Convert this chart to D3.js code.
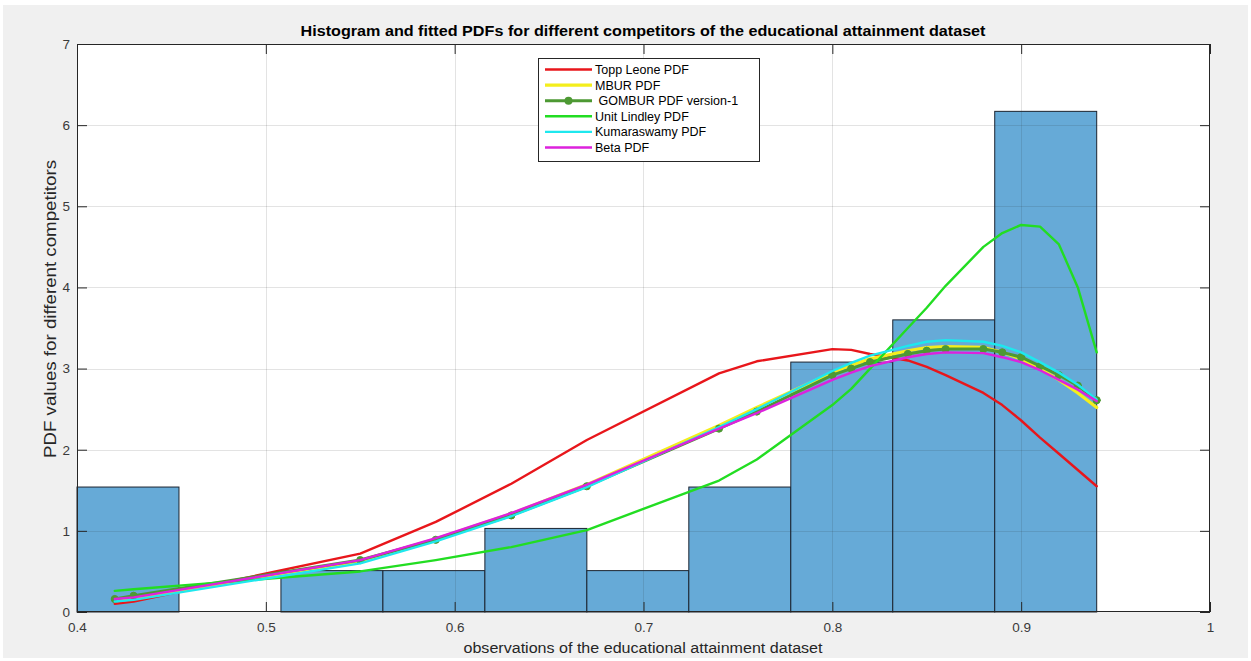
<!DOCTYPE html>
<html>
<head>
<meta charset="utf-8">
<script src="https://cdn.jsdelivr.net/npm/d3@7"></script>
<style>
  html, body { margin: 0; padding: 0; background: #fff; }
  svg { display: block; font-family: "Liberation Sans", Arial, sans-serif; }
</style>
</head>
<body>
<svg id="chart" width="1251" height="661"></svg>
<script>
(() => {
  'use strict';

  // histogram (density) - 10 bins
  const binEdges = [0.4, 0.454, 0.508, 0.562, 0.616, 0.670, 0.724, 0.778, 0.832, 0.886, 0.940];
  const binDensity = [1.54, 0, 0.51, 0.51, 1.03, 0.51, 1.54, 3.08, 3.60, 6.17];

  // points where the fitted pdfs were evaluated
  const obs = [0.42, 0.43, 0.55, 0.59, 0.63, 0.67, 0.74, 0.76, 0.80, 0.81, 0.82, 0.84, 0.85, 0.86, 0.88, 0.89, 0.90, 0.91, 0.92, 0.93, 0.94];

  const toppLeone  = [0.10, 0.13, 0.72, 1.11, 1.58, 2.12, 2.94, 3.09, 3.24, 3.23, 3.18, 3.10, 3.02, 2.92, 2.70, 2.55, 2.36, 2.15, 1.95, 1.75, 1.55];
  const mbur       = [0.15, 0.17, 0.63, 0.90, 1.21, 1.57, 2.30, 2.52, 2.95, 3.04, 3.12, 3.22, 3.26, 3.27, 3.26, 3.20, 3.12, 3.00, 2.86, 2.70, 2.52];
  const gombur     = [0.16, 0.20, 0.64, 0.89, 1.19, 1.55, 2.26, 2.47, 2.92, 3.00, 3.08, 3.18, 3.22, 3.24, 3.24, 3.20, 3.14, 3.03, 2.92, 2.79, 2.61];
  const unitLindley= [0.26, 0.28, 0.50, 0.64, 0.80, 1.01, 1.62, 1.88, 2.55, 2.75, 3.00, 3.50, 3.75, 4.02, 4.50, 4.67, 4.77, 4.75, 4.53, 4.00, 3.20];
  const kumaraswamy= [0.13, 0.15, 0.60, 0.87, 1.18, 1.54, 2.28, 2.50, 2.97, 3.07, 3.16, 3.28, 3.33, 3.35, 3.33, 3.28, 3.20, 3.08, 2.95, 2.80, 2.62];
  const betaPdf    = [0.16, 0.18, 0.64, 0.91, 1.22, 1.57, 2.26, 2.45, 2.86, 2.95, 3.03, 3.14, 3.18, 3.20, 3.19, 3.14, 3.08, 2.98, 2.86, 2.74, 2.60];

  const xTicks = [0.4, 0.5, 0.6, 0.7, 0.8, 0.9, 1];
  const yTicks = [0, 1, 2, 3, 4, 5, 6, 7];

  const series = [
    { name: "Topp Leone PDF", values: toppLeone, color: "#e8161b", width: 2.4 },
    { name: "MBUR PDF", values: mbur, color: "#f4ee1c", width: 3.2 },
    { name: " GOMBUR PDF version-1", values: gombur, color: "#4d9933", width: 3, marker: true },
    { name: "Unit Lindley PDF", values: unitLindley, color: "#22dd22", width: 2.4 },
    { name: "Kumaraswamy PDF", values: kumaraswamy, color: "#1ee8ee", width: 2.4 },
    { name: "Beta PDF", values: betaPdf, color: "#dd22dd", width: 2.4 }
  ];

  const svg = d3.select("#chart");
  const left = 77, right = 1210, top = 44, bottom = 612;

  const x = d3.scaleLinear().domain([0.4, 1]).range([left, right]);
  const y = d3.scaleLinear().domain([0, 7]).range([bottom, top]);

  // figure background
  svg.append("rect").attr("x", 3).attr("y", 5).attr("width", 1245).attr("height", 653).attr("fill", "#f0f0f0");

  svg.append("rect")
    .attr("x", left).attr("y", top)
    .attr("width", right - left).attr("height", bottom - top)
    .attr("fill", "#fff");

  // bars
  svg.append("g").selectAll("rect")
    .data(binDensity)
    .join("rect")
      .attr("x", (d, i) => x(binEdges[i]))
      .attr("y", d => y(d))
      .attr("width", (d, i) => x(binEdges[i + 1]) - x(binEdges[i]))
      .attr("height", d => y(0) - y(d))
      .attr("fill", d => d > 0 ? "#66aad7" : "none")
      .attr("stroke", d => d > 0 ? "#1b2430" : "none")
      .attr("stroke-width", 1);

  // grid (drawn over the bars, faint like matlab)
  const grid = svg.append("g").attr("stroke", "#262626").attr("stroke-opacity", 0.13).attr("stroke-width", 1);
  grid.selectAll(".gx").data(xTicks.slice(1, -1)).join("line")
    .attr("x1", d => Math.round(x(d)) + 0.5).attr("x2", d => Math.round(x(d)) + 0.5)
    .attr("y1", top).attr("y2", bottom);
  grid.selectAll(".gy").data(yTicks.slice(1, -1)).join("line")
    .attr("y1", d => Math.round(y(d)) + 0.5).attr("y2", d => Math.round(y(d)) + 0.5)
    .attr("x1", left).attr("x2", right);

  // curves
  const line = d3.line().x((d, i) => x(obs[i])).y(d => y(d));
  const curves = svg.append("g").attr("fill", "none").attr("stroke-linejoin", "round").attr("stroke-linecap", "round");
  series.forEach(s => {
    curves.append("path")
      .attr("d", line(s.values))
      .attr("stroke", s.color)
      .attr("stroke-width", s.width);
    if (s.marker) {
      curves.append("g").selectAll("circle")
        .data(s.values)
        .join("circle")
          .attr("cx", (d, i) => x(obs[i]))
          .attr("cy", d => y(d))
          .attr("r", 3.6)
          .attr("fill", s.color)
          .attr("stroke", s.color);
    }
  });

  // axes with inward ticks on all sides
  const tickLen = 10;
  const xAxisB = d3.axisBottom(x).tickValues(xTicks).tickSizeInner(-tickLen).tickSizeOuter(0).tickFormat(d3.format("~g"));
  const yAxisL = d3.axisLeft(y).tickValues(yTicks).tickSizeInner(-tickLen).tickSizeOuter(0).tickFormat(d3.format("~g"));

  const gx = svg.append("g").attr("transform", `translate(0,${bottom})`).call(xAxisB);
  const gy = svg.append("g").attr("transform", `translate(${left},0)`).call(yAxisL);
  gx.select(".domain").remove();
  gy.select(".domain").remove();
  [gx, gy].forEach(g => {
    g.selectAll("line").attr("stroke", "#262626");
    g.selectAll("text").attr("fill", "#3a3a3a").style("font-size", "13.5px").style("font-family", "Liberation Sans, Arial, sans-serif");
  });
  gx.selectAll("text").attr("y", 10).attr("dy", "0.71em");
  gy.selectAll("text").attr("x", -7);

  const gxT = svg.append("g").attr("transform", `translate(0,${top})`)
    .call(d3.axisTop(x).tickValues(xTicks).tickSizeInner(-tickLen).tickSizeOuter(0).tickFormat(""));
  const gyR = svg.append("g").attr("transform", `translate(${right},0)`)
    .call(d3.axisRight(y).tickValues(yTicks).tickSizeInner(-tickLen).tickSizeOuter(0).tickFormat(""));
  [gxT, gyR].forEach(g => {
    g.select(".domain").remove();
    g.selectAll("line").attr("stroke", "#262626");
  });

  // box
  svg.append("rect")
    .attr("x", left + 0.5).attr("y", top + 0.5)
    .attr("width", right - left - 1).attr("height", bottom - top - 1)
    .attr("fill", "none").attr("stroke", "#262626").attr("stroke-width", 1);

  // titles
  svg.append("text")
    .attr("x", 643).attr("y", 36)
    .attr("text-anchor", "middle")
    .attr("font-weight", "bold").attr("font-size", 15.5)
    .attr("textLength", 685).attr("lengthAdjust", "spacingAndGlyphs")
    .attr("fill", "#000")
    .text("Histogram and fitted PDFs for different competitors of the educational attainment dataset");

  svg.append("text")
    .attr("x", 643).attr("y", 653)
    .attr("text-anchor", "middle")
    .attr("font-size", 15.5).attr("fill", "#262626")
    .attr("textLength", 359).attr("lengthAdjust", "spacingAndGlyphs")
    .text("observations of the educational attainment dataset");

  svg.append("text")
    .attr("transform", "translate(56,309) rotate(-90)")
    .attr("text-anchor", "middle")
    .attr("font-size", 16).attr("fill", "#262626")
    .attr("textLength", 298).attr("lengthAdjust", "spacingAndGlyphs")
    .text("PDF values for different competitors");

  // legend
  const lg = svg.append("g").attr("transform", "translate(538,58)");
  lg.append("rect")
    .attr("x", 0.5).attr("y", 0.5).attr("width", 221).attr("height", 103)
    .attr("fill", "#fff").attr("stroke", "#262626").attr("stroke-width", 1);
  const rows = lg.selectAll(".row").data(series).join("g")
    .attr("transform", (d, i) => `translate(0,${11.5 + i * 15.6})`);
  rows.append("line")
    .attr("x1", 7).attr("x2", 54).attr("y1", 0).attr("y2", 0)
    .attr("stroke", d => d.color).attr("stroke-width", d => d.width);
  rows.filter(d => d.marker).append("circle")
    .attr("cx", 30.5).attr("cy", 0).attr("r", 4)
    .attr("fill", d => d.color);
  rows.append("text")
    .attr("x", 57).attr("y", 4.5)
    .attr("font-size", 12.5).attr("fill", "#000")
    .attr("xml:space", "preserve")
    .style("white-space", "pre")
    .text(d => d.name);
})();
</script>
</body>
</html>
